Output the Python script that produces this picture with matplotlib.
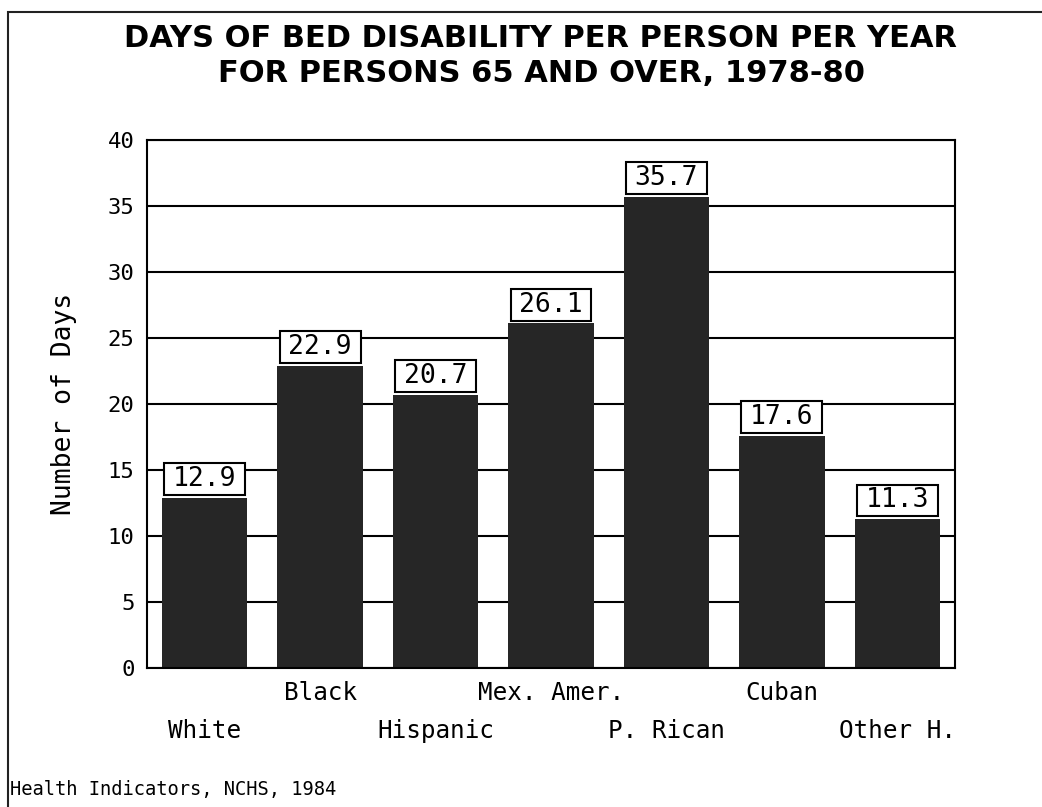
import matplotlib
matplotlib.use("Agg")
import matplotlib.pyplot as plt
import matplotlib.transforms as mtrans
from matplotlib.patches import Rectangle

categories = ["White", "Black", "Hispanic", "Mex. Amer.", "P. Rican", "Cuban", "Other H."]
values = [12.9, 22.9, 20.7, 26.1, 35.7, 17.6, 11.3]
label_row = [1, 0, 1, 0, 1, 0, 1]  # 0 = upper row, 1 = lower row
yticks = [0, 5, 10, 15, 20, 25, 30, 35, 40]
title = "DAYS OF BED DISABILITY PER PERSON PER YEAR\nFOR PERSONS 65 AND OVER, 1978-80"
ylabel = "Number of Days"
source = "Health Indicators, NCHS, 1984"

mono = "DejaVu Sans Mono"
bar_color = "#262626"
bar_width = 0.74
box_width = 0.70
box_height = 2.4
box_gap = 0.2

fig = plt.figure(figsize=(10.42, 8.07), dpi=100)
fig.patch.set_facecolor("white")
ax = fig.add_axes([147/1042, 1-668/807, (955-147)/1042, (668-140)/807])

# outer frame (scan border)
fig.add_artist(Rectangle((8/1042, -0.1), 1.2, 1-12/807+0.1, transform=fig.transFigure,
                         fill=False, edgecolor="#222222", linewidth=1.5))

ax.set_xlim(-0.5, len(categories) - 0.5)
ax.set_ylim(0, 40)
ax.set_yticks(yticks)
ax.set_yticklabels([str(t) for t in yticks], fontfamily=mono, fontsize=16)
ax.set_xticks([])
ax.tick_params(axis="y", length=0, pad=9)
for s in ax.spines.values():
    s.set_linewidth(1.5)
    s.set_color("black")
ax.yaxis.grid(True, color="black", linewidth=1.5)
ax.set_axisbelow(True)

x = list(range(len(categories)))
ax.bar(x, values, width=bar_width, color=bar_color, zorder=2)

for xi, v in zip(x, values):
    y0 = v + box_gap
    ax.add_patch(Rectangle((xi - box_width / 2, y0), box_width, box_height,
                           facecolor="white", edgecolor="black", linewidth=1.5, zorder=3))
    ax.text(xi, y0 + box_height / 2, f"{v:.1f}", ha="center", va="center",
            fontfamily=mono, fontsize=19, zorder=4)

trans = mtrans.blended_transform_factory(ax.transData, ax.transAxes)
for xi, name, row in zip(x, categories, label_row):
    ypos = -0.048 if row == 0 else -0.12
    ax.text(xi, ypos, name, transform=trans, ha="center", va="center",
            fontfamily=mono, fontsize=17.5)

ax.set_ylabel(ylabel, fontfamily=mono, fontsize=19, labelpad=22)

fig.text(541/1042, 1-56/807, title, ha="center", va="center",
         fontfamily="DejaVu Sans", fontweight="bold", fontsize=22, linespacing=1.25)
fig.text(10/1042, 1-790/807, source, ha="left", va="center",
         fontfamily=mono, fontsize=13.5)

fig.savefig("out.png", dpi=100, facecolor="white")
